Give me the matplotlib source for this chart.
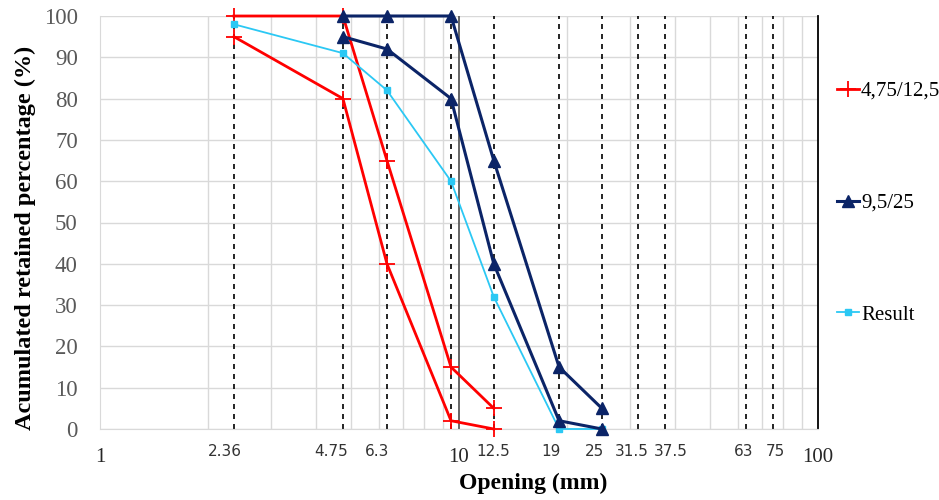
import numpy as np
import matplotlib.pyplot as plt
from matplotlib.lines import Line2D

# sieve openings (mm) marked with dashed lines
sieves = [2.36, 4.75, 6.3, 9.5, 12.5, 19, 25, 31.5, 37.5, 63, 75]
sieve_labels = ['2.36', '4.75', '6.3', '', '12.5', '19', '25', '31.5', '37.5', '63', '75']
# horizontal nudge of each sieve label (pixels), as placed in the original
label_nudge = [-9, -12, -10, 0, -1, -8, -7, -6, 6, -2, 2]

# 4,75/12,5 envelope
fine_x = [2.36, 4.75, 6.3, 9.5, 12.5]
fine_upper = [100, 100, 65, 15, 5]
fine_lower = [95, 80, 40, 2, 0]

# 9,5/25 envelope
coarse_x = [4.75, 6.3, 9.5, 12.5, 19, 25]
coarse_upper = [100, 100, 100, 65, 15, 5]
coarse_lower = [95, 92, 80, 40, 2, 0]

# resulting mix
result_x = [2.36, 4.75, 6.3, 9.5, 12.5, 19, 25]
result_y = [98, 91, 82, 60, 32, 0, 0]

red = '#FF0000'
navy = '#0B2467'
cyan = '#2BC8F4'
serif = ['Liberation Serif', 'DejaVu Serif']

fig = plt.figure(figsize=(9.39, 5), dpi=100)
ax = fig.add_axes([100 / 939, 1 - 429 / 500, 718 / 939, 413 / 500])

ax.set_xscale('log')
ax.set_xlim(1, 100)
ax.set_ylim(0, 100)

# grid
ax.set_yticks(np.arange(0, 101, 10))
ax.grid(axis='y', color='#D9D9D9', lw=1)
ax.set_xticks([1, 10, 100])
ax.set_xticks([v * d for d in (1, 10) for v in range(2, 10)], minor=True)
ax.grid(axis='x', which='minor', color='#D9D9D9', lw=1)
ax.axvline(10, color='#595959', lw=1.3, zorder=2)
for s in sieves:
    ax.axvline(s, color='black', lw=1.2, ls=(0, (3, 3)), zorder=2)

for sp in ['left', 'bottom', 'top']:
    ax.spines[sp].set_color('#D9D9D9')
ax.spines['top'].set_visible(False)
ax.spines['right'].set_color('black')
ax.spines['right'].set_linewidth(1.3)
ax.tick_params(which='both', length=0)

ax.set_xticklabels(['1', '10', '100'], family=serif, fontsize=15, color='#262626')
ax.tick_params(axis='x', pad=14)
ax.set_yticklabels([str(v) for v in range(0, 101, 10)], family=serif, fontsize=16.5, color='#595959')
ax.tick_params(axis='y', pad=16)

for s, lab, dx in zip(sieves, sieve_labels, label_nudge):
    if lab:
        ax.annotate(lab, (s, 0), xytext=(dx * 0.72, -16), textcoords='offset points',
                    ha='center', va='center', fontsize=11, color='#333333',
                    family='DejaVu Sans', annotation_clip=False)

# data
ax.plot(fine_x, fine_upper, color=red, lw=2, marker='+', ms=11, mew=1.3, zorder=4, clip_on=False)
ax.plot(fine_x, fine_lower, color=red, lw=2, marker='+', ms=11, mew=1.3, zorder=4, clip_on=False)
ax.plot(result_x, result_y, color=cyan, lw=1.3, marker='s', ms=4, zorder=5, clip_on=False)
ax.plot(coarse_x, coarse_upper, color=navy, lw=2.2, marker='^', ms=8, zorder=6, clip_on=False)
ax.plot(coarse_x, coarse_lower, color=navy, lw=2.2, marker='^', ms=8, zorder=6, clip_on=False)

ax.set_xlabel('Opening (mm)', family=serif, fontsize=17, fontweight='bold')
ax.xaxis.set_label_coords((533 - 100) / 718, -(473 - 429) / 413)
ax.set_ylabel('Acumulated retained percentage (%)', family=serif, fontsize=17.5,
              fontweight='bold')
ax.yaxis.set_label_coords(-(100 - 36) / 718, (429 - 238) / 413)

handles = [
    Line2D([], [], color=red, lw=2, marker='+', ms=11, mew=1.3),
    Line2D([], [], color=navy, lw=2.2, marker='^', ms=8),
    Line2D([], [], color=cyan, lw=1.3, marker='s', ms=4),
]
fig.legend(handles, ['4,75/12,5', '9,5/25', 'Result'], loc='center left',
           bbox_to_anchor=(837 / 939, 1 - 203 / 500), frameon=False,
           prop={'family': serif, 'size': 15}, handlelength=1.05,
           handletextpad=0.1, labelspacing=4.43, borderpad=0, borderaxespad=0)

fig.savefig('out.png', dpi=100)
